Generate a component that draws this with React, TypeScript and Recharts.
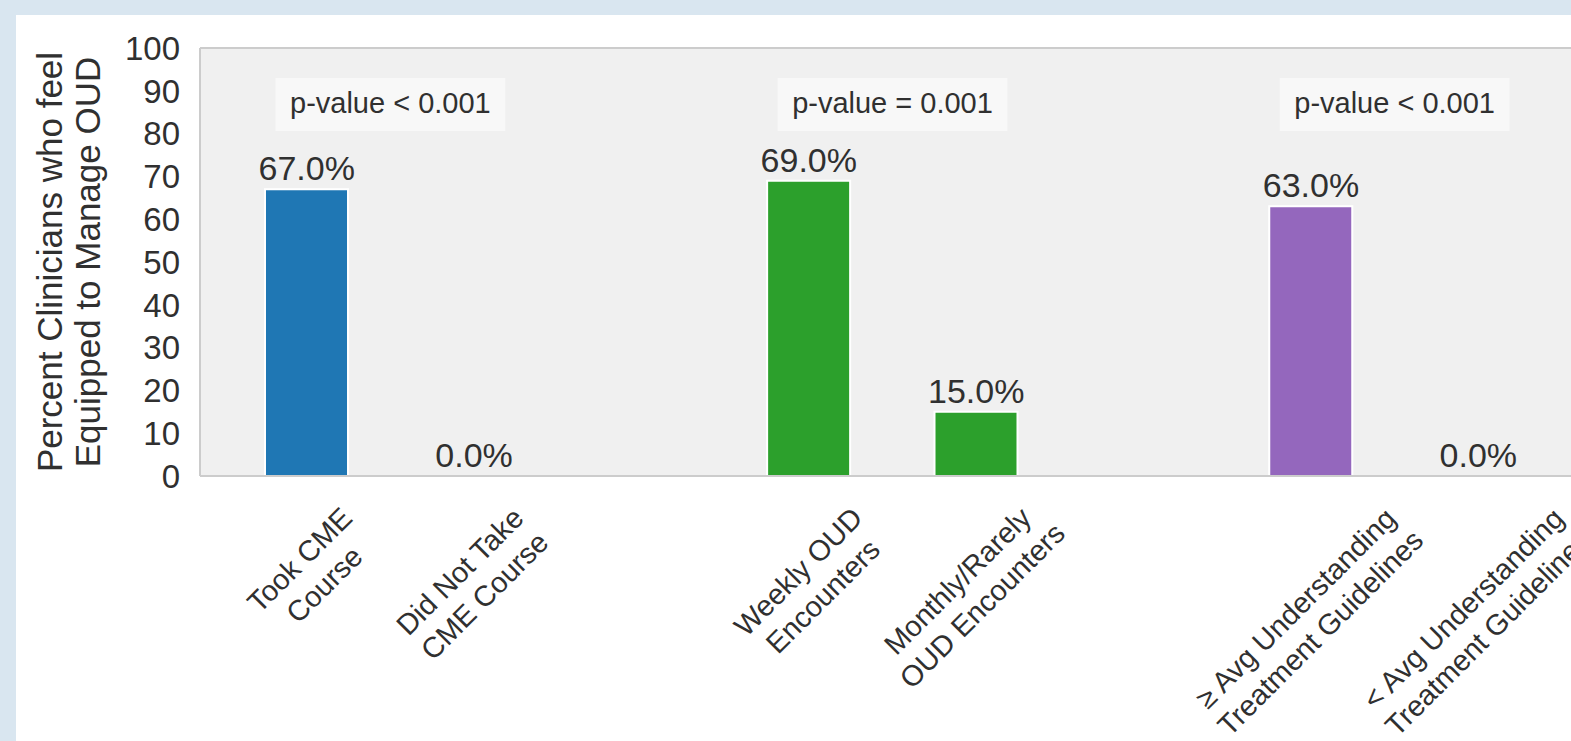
import React from "react";
import {
  BarChart,
  Bar,
  XAxis,
  YAxis,
  Cell,
  CartesianGrid,
  ReferenceLine,
  ReferenceArea,
  ReferenceDot,
} from "recharts";

// categories (blank entries are the gaps between the three comparisons)
const categories = [
  "Took CME\nCourse",
  "Did Not Take\nCME Course",
  " ",
  "Weekly OUD\nEncounters",
  "Monthly/Rarely\nOUD Encounters",
  "  ",
  "≥ Avg Understanding\nTreatment Guidelines",
  "< Avg Understanding\nTreatment Guidelines",
];
const percentEquipped = [67, 0, null, 69, 15, null, 63, 0];
const barColors = ["#1f77b4", "#1f77b4", null, "#2ca02c", "#2ca02c", null, "#9467bd", "#9467bd"];
const yTicks = [0, 10, 20, 30, 40, 50, 60, 70, 80, 90, 100];

const pValueNotes = [
  { from: categories[0], to: categories[1], text: "p-value < 0.001" },
  { from: categories[3], to: categories[4], text: "p-value = 0.001" },
  { from: categories[6], to: categories[7], text: "p-value < 0.001" },
];

const rows = categories.map((name, i) => ({
  name,
  value: percentEquipped[i],
  color: barColors[i],
}));

const FONT = "'Liberation Sans', Arial, Helvetica, sans-serif";
const INK = "#303030";
const SPINE = "#cccccc";

let ctx: CanvasRenderingContext2D | null = null;
function textWidth(s: string, size: number) {
  if (!ctx) ctx = document.createElement("canvas").getContext("2d");
  if (!ctx) return s.length * size * 0.55;
  ctx.font = `${size}px 'Liberation Sans', Arial`;
  return ctx.measureText(s).width;
}

// rotated two-line label, bounding box centred under the tick (like matplotlib ha="center")
const CategoryTick = (props: any) => {
  const { x, y, payload } = props;
  const label = String(payload.value);
  if (!label.trim()) return null;
  const lines = label.split("\n");
  const fs = 29;
  const lh = fs * 1.2;
  const asc = fs * 0.72;
  const desc = fs * 0.21;
  const c = Math.SQRT1_2;
  let minX = Infinity, maxX = -Infinity, minY = Infinity;
  lines.forEach((ln, i) => {
    const w = textWidth(ln, fs);
    for (const u of [-w / 2, w / 2]) {
      for (const v of [i * lh - asc, i * lh + desc]) {
        const sx = (u + v) * c;
        const sy = (-u + v) * c;
        minX = Math.min(minX, sx);
        maxX = Math.max(maxX, sx);
        minY = Math.min(minY, sy);
      }
    }
  });
  const tx = x - (minX + maxX) / 2;
  const ty = y - minY;
  return (
    <g transform={`translate(${tx},${ty}) rotate(-45)`}>
      <text textAnchor="middle" fontSize={fs} fontFamily={FONT} fill={INK}>
        {lines.map((ln, i) => (
          <tspan key={i} x={0} y={i * lh}>
            {ln}
          </tspan>
        ))}
      </text>
    </g>
  );
};

const PBox = (text: string) => (props: any) => {
  const { x, y, width, height } = props;
  const fs = 29;
  const w = textWidth(text, fs) + 29;
  const cx = x + width / 2;
  return (
    <g>
      <rect x={cx - w / 2} y={y} width={w} height={height} fill="#f8f8f8" />
      <text
        x={cx}
        y={y + 35}
        textAnchor="middle"
        fontSize={fs}
        fontFamily={FONT}
        fill={INK}
      >
        {text}
      </text>
    </g>
  );
};

const ValueLabel = (text: string) => (props: any) => {
  const vb = props.viewBox || {};
  return (
    <text
      x={vb.x + (vb.width || 0) / 2}
      y={vb.y - 9}
      textAnchor="middle"
      fontSize={34}
      fontFamily={FONT}
      fill={INK}
    >
      {text}
    </text>
  );
};

const YAxisTitle = (props: any) => {
  const vb = props.viewBox || { y: 48, height: 428 };
  const cy = vb.y + vb.height / 2;
  return (
    <g>
      <text
        transform={`translate(62,${cy}) rotate(-90)`}
        textAnchor="middle"
        fontSize={35}
        fontFamily={FONT}
        fill={INK}
      >
        Percent Clinicians who feel
      </text>
      <text
        transform={`translate(100,${cy}) rotate(-90)`}
        textAnchor="middle"
        fontSize={35}
        fontFamily={FONT}
        fill={INK}
      >
        Equipped to Manage OUD
      </text>
    </g>
  );
};

export default function App() {
  return (
    <div
      style={{
        position: "absolute",
        left: 0,
        top: 0,
        width: 1571,
        height: 741,
        overflow: "hidden",
        background: "#d9e6f0",
      }}
    >
      <div
        style={{
          position: "absolute",
          left: 16,
          top: 15,
          right: 0,
          bottom: 0,
          background: "#ffffff",
        }}
      />
      <div style={{ position: "absolute", left: 0, top: 0 }}>
        <BarChart
          width={1600}
          height={741}
          data={rows}
          margin={{ top: 48, right: 15, left: 20, bottom: 0 }}
        >
          <CartesianGrid fill="#f0f0f0" horizontal={false} vertical={false} />
          <XAxis
            dataKey="name"
            interval={0}
            height={265}
            padding={{ left: 23, right: 23 }}
            tickLine={false}
            tickSize={0}
            tickMargin={29}
            axisLine={{ stroke: SPINE, strokeWidth: 2 }}
            tick={<CategoryTick />}
          />
          <YAxis
            domain={[0, 100]}
            ticks={yTicks}
            interval={0}
            width={180}
            tickLine={false}
            tickSize={0}
            tickMargin={20}
            axisLine={{ stroke: SPINE, strokeWidth: 2 }}
            tick={{ fontSize: 33, fontFamily: FONT, fill: INK }}
            label={{ content: YAxisTitle }}
          />
          <ReferenceLine y={100} stroke={SPINE} strokeWidth={2} />
          {pValueNotes.map((n, i) => (
            <ReferenceArea
              key={i}
              x1={n.from}
              x2={n.to}
              y1={80.6}
              y2={93}
              shape={PBox(n.text)}
            />
          ))}
          <Bar
            dataKey="value"
            barSize={83}
            stroke="#ffffff"
            strokeWidth={2}
            isAnimationActive={false}
          >
            {rows.map((r, i) => (
              <Cell key={i} fill={r.color || "transparent"} />
            ))}
          </Bar>
          {rows
            .filter((r) => r.value != null)
            .map((r) => (
              <ReferenceDot
                key={r.name}
                x={r.name}
                y={r.value as number}
                r={0}
                fill="none"
                stroke="none"
                label={{ content: ValueLabel(`${(r.value as number).toFixed(1)}%`) }}
              />
            ))}
        </BarChart>
      </div>
    </div>
  );
}
